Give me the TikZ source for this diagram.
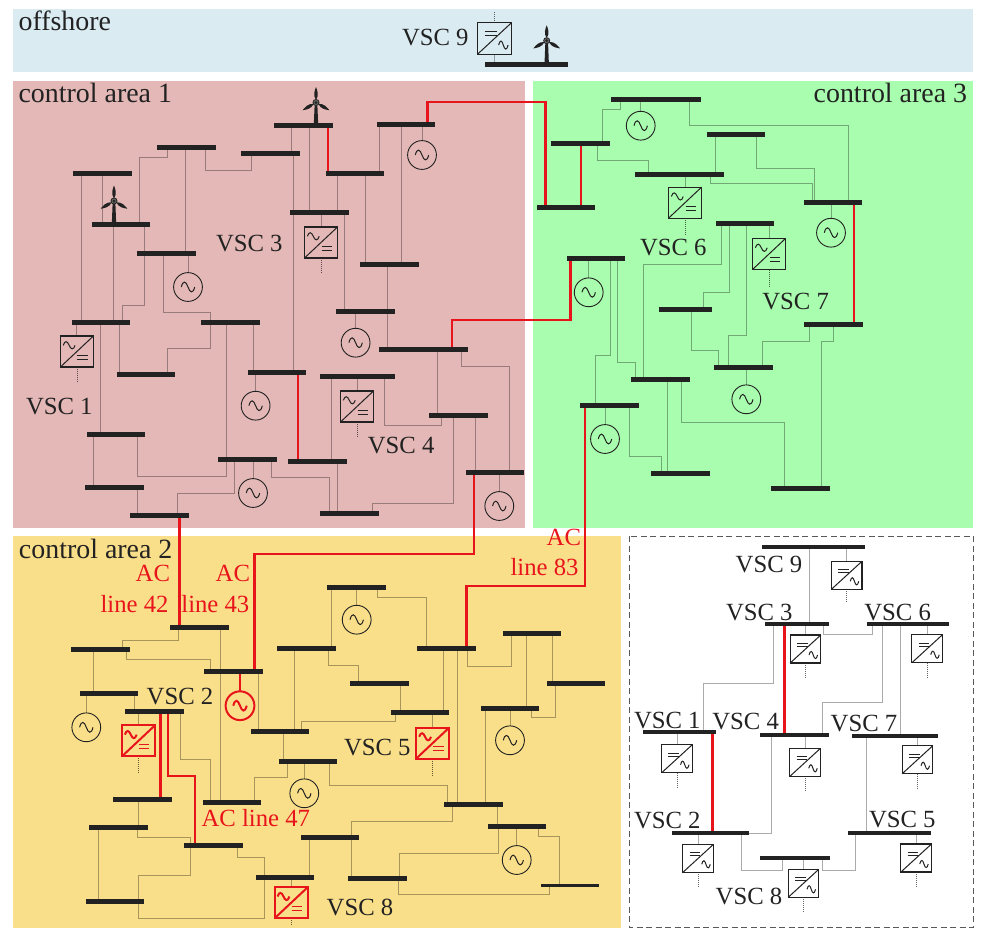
\documentclass[tikz,border=0pt]{standalone}
\usepackage{fontspec}
\setmainfont{Liberation Serif}
\definecolor{ink}{HTML}{222222}
\definecolor{acred}{HTML}{E8141C}
\definecolor{bgoff}{HTML}{DAEBF2}
\definecolor{bgone}{HTML}{E3B8B6}
\definecolor{bgtwo}{HTML}{FADF8A}
\definecolor{bgthree}{HTML}{A9FDAE}
\pgfdeclarelayer{bgl}\pgfdeclarelayer{links}\pgfsetlayers{bgl,links,main}
\tikzset{
 busbar/.style={rectangle,fill=ink,draw=none,inner sep=0pt,outer sep=0pt,minimum height=5pt},
 ln/.style={line width=1pt,draw=black,draw opacity=.33,line join=miter},
 redl/.style={line width=2.8pt,draw=acred,line join=miter,draw opacity=1},
 dotl/.style={line width=.7pt,draw=black,draw opacity=.6,dash pattern=on 1pt off 1pt},
 gencirc/.style={circle,draw=ink,line width=.9pt,inner sep=0pt,outer sep=0pt,minimum size=28.8pt},
 convbox/.style={rectangle,draw=ink,line width=1.1pt,inner sep=0pt,outer sep=0pt},
 glyph/.style={draw=ink,line width=1pt},
 redc/.style={draw=acred,line width=2pt},
 lab/.style={inner sep=0pt,outer sep=0pt,anchor=base west,text=ink,font=\fontsize{24.7}{24.7}\selectfont},
 lab2/.style={inner sep=0pt,outer sep=0pt,anchor=base west,text=ink,font=\fontsize{27.9}{27.9}\selectfont},
 redlab/.style={inner sep=0pt,outer sep=0pt,anchor=base east,text=acred,font=\fontsize{24.7}{24.7}\selectfont},
}
\newcommand\bus[5][]{\node[busbar,minimum width={(#4-#3)*1pt},#1] (#2) at ({(#3+#4)/2},#5) {};}
\newcommand\vl[4][ln]{\draw[#1] (#3,0 |- #2) -- (#3,0 |- #4);}
\newcommand\zl[6][ln]{\draw[#1] (#3,0 |- #2) -- (#3,#4) -- (#5,#4) -- (#5,0 |- #6);}
\newcommand\gen[4][]{\node[gencirc,#1] (#2) at (#3,#4) {};
 \draw[glyph,#1,shift={(#3,#4)}] (-6.7,0) .. controls (-5,-7) and (-2,-6) .. (0,0) .. controls (2,6) and (5,7) .. (6.7,0);}
\newcommand\stem[3][ln]{\draw[#1] (#3.north |- #2) -- (#3.north);}
\newcommand\tail[2]{\coordinate (#1t) at (#1.south |- 0,#2); \draw[dotl] (#1.south) -- (#1t);}
\newcommand\convA[6][]{\node[convbox,minimum width=#5*1pt,minimum height=#6*1pt,#1] (#2) at (#3,#4) {};
 \draw[glyph,#1] (#2.south west) -- (#2.north east);
 \begin{scope}[shift={(#3,#4)},xscale=#5/33,yscale=#6/31]
 \draw[glyph,#1] (-13.6,-6.2) .. controls (-12,-11.5) and (-9.5,-10.5) .. (-7.7,-6.2) .. controls (-6,-2) and (-3.5,-1) .. (-1.8,-6.2);
 \draw[glyph,#1,line width=.9pt] (.5,3.6) -- (10.8,3.6) (.5,7.6) -- (10.8,7.6);
 \end{scope}}
\newcommand\convB[6][]{\node[convbox,minimum width=#5*1pt,minimum height=#6*1pt,#1] (#2) at (#3,#4) {};
 \draw[glyph,#1] (#2.south west) -- (#2.north east);
 \begin{scope}[shift={(#3,#4)},xscale=#5/30.5,yscale=#6/28]
 \draw[glyph,line width=.9pt] (-8.5,-5.7) -- (2,-5.7) (-8.5,-2.7) -- (2,-2.7);
 \draw[glyph] (3.5,6) .. controls (4.8,1) and (6.5,1.5) .. (7.7,6) .. controls (9,10.5) and (10.8,11) .. (12,6);
 \end{scope}}
\newcommand\turbine[3]{\begin{scope}[shift={(#1,#3)}]
 \fill[ink] (-1.4,3) -- (-2.2,#2-#3) -- (2.2,#2-#3) -- (1.4,3) -- cycle;
 \foreach \r in {0,120,-120}{
  \fill[ink,rotate=\r] (0,-2.5) .. controls (-3.4,-7.5) and (-1.2,-12) .. (0,-15.5) .. controls (1.2,-12) and (3.4,-7.5) .. (0,-2.5) -- cycle;}
 \fill[ink] (0,0) circle (3.5);
 \fill[white,opacity=.3] (0,0) circle (2.5);
 \fill[ink] (0,0) circle (1.5);
 \end{scope}}
\begin{document}
\begin{tikzpicture}[x=1pt,y=-1pt]
\useasboundingbox (0,0) rectangle (983,935);
\begin{pgfonlayer}{bgl}
\fill[white] (0,0) rectangle (983,935);
\fill[bgoff] (13,9) rectangle (973,72);
\fill[bgone] (13,81) rectangle (525,528);
\fill[bgthree] (533,81) rectangle (973,528);
\fill[bgtwo] (13,536) rectangle (621,927.5);
\draw[draw=black!65,line width=1pt,dash pattern=on 6pt off 3.5pt] (629,536) rectangle (973,927.5);
\end{pgfonlayer}
% offshore
\bus{OB}{485}{568}{64}
\turbine{546.7}{64}{40.7}
\convB[minimum width=34pt]{V9x}{494.7}{38.3}{34}{31.5}
% area 1
\bus{A1}{73}{132}{173}\bus{A2}{92}{150}{224}\bus{A3}{157}{216}{147}\bus{A4}{241}{300}{153}
\bus{A5}{274}{333}{125}\bus{A6}{377}{435}{124}\bus{A7}{326}{384}{173}\bus{A8}{290}{349}{212}
\bus{A9}{360}{419}{264}\bus{A10}{137}{196}{253}\bus{A11}{72}{130}{322}\bus{A12}{117}{175}{374}
\bus{A13}{201}{260}{322}\bus{A14}{248}{306}{372}\bus{A15}{336}{395}{311}\bus{A16}{379}{468}{349}
\bus{A17}{320}{395}{376}\bus{A18}{429}{488}{415}\bus{A19}{466}{524}{472}\bus{A20}{288}{347}{461}
\bus{A21}{218}{277}{459}\bus{A22}{87}{145}{434}\bus{A23}{85}{144}{487}\bus{A24}{130}{189}{515}
\bus{A25}{320}{379}{513}
\turbine{316}{125}{102.5}
\turbine{114}{224}{201}
\gen{G1}{422}{155}\gen{G2}{188}{287}\gen{G3}{355.6}{342.7}\gen{G4}{255.6}{405.7}\gen{G5}{253}{493}\gen{G6}{499.3}{506}
\convA{V3x}{321}{242.5}{33}{31}
\convA{V1x}{76.9}{351.5}{33}{31}
\convA{V4x}{357}{406.5}{33}{31}
% area 3
\bus{C1}{611}{701}{99.5}\bus{C2}{551}{610}{143.7}\bus{C3}{537}{595}{207.7}\bus{C4}{707}{765}{134}
\bus{C5}{635}{724}{174}\bus{C6}{804}{862}{202}\bus{C7}{716}{774}{223.7}\bus{C8}{567}{625}{258}
\bus{C9}{659}{712}{309}\bus{C10}{804}{863}{324}\bus{C11}{714}{773}{367.7}\bus{C12}{631}{690}{379.7}
\bus{C13}{580}{639}{405.7}\bus{C14}{651}{710}{473}\bus{C15}{771}{830}{488}
\gen{G7}{640.7}{125.7}\gen{G8}{831}{232.7}\gen{G9}{588.7}{292.3}\gen{G10}{746.3}{399.3}\gen{G11}{605}{439}
\convA{V6x}{685}{202.7}{33}{31}
\convA{V7x}{769}{254}{33}{31}
% area 2
\bus{D1}{170}{228.7}{627.3}\bus{D2}{71.3}{130}{649.7}\bus{D3}{204}{262.7}{671.7}\bus{D4}{79.7}{137.7}{693}
\bus{D5}{125.3}{184}{711.3}\bus{D6}{250.7}{309.3}{731.3}\bus{D7}{277.3}{335.7}{648}\bus{D8}{279}{337.3}{761}
\bus{D9}{113.3}{172}{799.3}\bus{D10}{202.7}{261.3}{802.7}\bus{D11}{89.3}{147.7}{827.7}\bus{D12}{184.3}{242.7}{845.3}
\bus{D13}{255.7}{314}{877.3}\bus{D14}{85.7}{144.3}{901.7}\bus{D15}{327}{385.7}{587.7}\bus{D16}{417.3}{475.7}{648.7}
\bus{D17}{350}{408.7}{683.7}\bus{D18}{391}{449.3}{712.3}\bus{D19}{503}{561.3}{633}\bus{D20}{547}{605.3}{683.3}
\bus{D21}{481}{539.3}{708}\bus{D22}{444.3}{502.7}{804.7}\bus{D23}{488}{546}{826.7}\bus{D24}{300.7}{359}{837.3}
\bus{D25}{348}{406.7}{878.3}\bus[minimum height=3pt]{D26}{541}{599.3}{885.3}
\gen[redc]{G12}{240}{705.7}
\gen{G13}{86.3}{727.3}\gen{G14}{304.3}{793.3}\gen{G15}{356.7}{619.7}\gen{G16}{510}{740.3}\gen{G17}{516.7}{860}
\convA[redc]{V2x}{138.5}{740.8}{33}{31}
\convA[redc]{V5x}{432.8}{743}{33}{31}
\convA[redc]{V8x}{291.2}{902.7}{33}{31}
% right panel
\tikzset{busbar/.append style={minimum height=4pt}}
\bus{E9}{762}{864.7}{547.3}\bus{E3}{765.3}{828.7}{623.7}\bus{E6}{867.3}{948.7}{623.7}\bus{E1}{643}{716}{731.7}
\bus{E4}{760}{828.7}{734.7}\bus{E7}{852}{937.7}{736.3}\bus{E2}{672.3}{749.3}{833.3}\bus{E5}{848}{931}{832.7}
\bus{E8}{760}{829.7}{858.3}
\convB{W9}{846.7}{575.3}{30.6}{28}\convB{W3}{805.5}{649}{30.6}{28}\convB{W6}{927.2}{648.7}{30.6}{28}
\convB{W1}{677}{758.7}{30.6}{28}\convB{W4}{805.2}{762.3}{30.6}{28}\convB{W7}{917.5}{759.7}{30.6}{28}
\convB{W2}{698.2}{858.3}{30.6}{28}\convB{W5}{916.2}{858}{30.6}{28}\convB{W8}{803.5}{883.3}{30.6}{28}
\begin{pgfonlayer}{links}
% offshore
\draw[ln] (V9x.south) -- (V9x.south |- OB);
\coordinate (V9xt) at (V9x.north |- 0,12); \draw[dotl] (V9x.north) -- (V9xt);
% area 1
\vl{A1}{81.5}{A11}\vl{A1}{102.4}{A2}\vl{A2}{113}{A11}
\zl{A2}{139.6}{157}{167}{A3}\vl{A3}{185}{A10}\zl{A3}{205}{170}{251.5}{A4}
\vl{A5}{291}{A4}\vl{A5}{309}{A8}\vl{A6}{379}{A7}\vl{A6}{401}{A9}\stem{A6}{G1}
\vl{A7}{337}{A8}\vl{A7}{365.5}{A9}\vl{A4}{293.5}{A14}\stem{A8}{V3x}\vl{A8}{344}{A15}
\vl{A9}{387.5}{A16}\stem{A15}{G3}\vl{A2}{144}{A10}\zl{A10}{144.7}{305}{122.7}{A11}
\zl{A10}{163.6}{312}{210.6}{A13}\zl{A13}{210.6}{348}{167}{A12}\stem{A10}{G2}
\stem{A11}{V1x}\vl{A11}{100.4}{A22}\vl{A11}{119.3}{A12}\vl{A13}{226.5}{A21}
\zl{A22}{137}{476}{226.5}{A21}\vl{A13}{253}{A14}\stem{A14}{G4}\vl{A17}{331}{A20}
\stem{A17}{V4x}\zl{A17}{384.4}{425.7}{441.5}{A18}\vl{A16}{437.5}{A18}
\zl{A16}{461.5}{366}{509.5}{A19}\vl{A18}{475.3}{A19}\zl{A18}{453.7}{503.3}{372}{A25}
\stem{A19}{G6}\stem{A21}{G5}\zl{A21}{234.6}{493.3}{177.8}{A24}\zl{A21}{271.5}{477.3}{329}{A25}
\vl{A20}{337.4}{A25}\vl{A22}{93.3}{A23}\vl{A23}{137.3}{A24}
\tail{V3x}{273}\tail{V1x}{383}\tail{V4x}{438}
% area 3
\zl{C1}{620.7}{109.7}{602.3}{C2}\stem{C1}{G7}\zl{C1}{689}{125.3}{848}{C6}
\zl{C2}{597}{160.3}{648.7}{C5}\vl{C4}{715}{C5}\zl{C4}{756.7}{168.3}{814.7}{C6}
\zl{C5}{710.7}{183.3}{812.7}{C6}\stem{C5}{V6x}\stem{C6}{G8}\stem{C7}{V7x}
\zl{C7}{721.3}{264}{643.3}{C12}\zl{C7}{729}{292.3}{703.3}{C9}\zl{C7}{746.7}{335.7}{728.3}{C11}
\stem{C8}{G9}\zl{C8}{610.7}{355.3}{595.7}{C13}\zl{C8}{617.3}{362.7}{635.7}{C12}
\zl{C9}{691.7}{350.3}{718.7}{C11}\zl{C10}{809.3}{341.3}{762.3}{C11}\zl{C10}{833.3}{341.3}{821.3}{C15}
\stem{C11}{G10}\vl{C12}{667.7}{C14}\zl{C12}{681.7}{422.3}{784}{C15}\stem{C13}{G11}
\zl{C13}{629.3}{456.3}{661.7}{C14}
\tail{V6x}{235}\tail{V7x}{286}
% area 2
\zl{D1}{178.3}{640.3}{122.3}{D2}\vl{D1}{220.3}{D10}\zl{D2}{126.7}{659.3}{210.7}{D3}\vl{D2}{93.3}{D4}
\vl{D3}{258.7}{D6}\stem{D4}{G13}\vl{D4}{134.7}{D5}\stem{D5}{V2x}\zl{D5}{180.7}{759.3}{210}{D10}
\vl{D7}{294.7}{D6}\vl{D6}{283.7}{D8}\zl{D6}{301.3}{721}{395.7}{D18}\vl{D15}{331.7}{D7}
\zl{D7}{328.3}{665.3}{358.7}{D17}\stem{D15}{G15}\zl{D15}{377.7}{597.3}{426.7}{D16}
\vl{D16}{443.7}{D18}\vl{D16}{457.7}{D22}\zl{D16}{467.7}{666}{511.3}{D19}\vl{D17}{400.7}{D18}
\stem{D18}{V5x}\vl{D19}{526.7}{D21}\vl{D19}{552.7}{D20}\zl{D20}{555.7}{717.3}{531.7}{D21}
\stem{D21}{G16}\vl{D21}{485.7}{D22}\vl{D22}{497}{D23}\stem{D8}{G14}\zl{D8}{287.7}{777.3}{254.3}{D10}
\zl{D8}{329.3}{785.3}{447.7}{D22}\zl{D22}{452.7}{821.7}{351.7}{D25}\vl{D24}{309.3}{D13}\stem{D23}{G17}
\zl{D23}{538.7}{836}{559.7}{D26}\zl{D23}{498.3}{853}{399.3}{D25}\zl{D25}{398.3}{894}{549.7}{D26}
\vl{D9}{138.3}{D11}\vl{D11}{98.7}{D14}\zl{D11}{137.3}{837}{190}{D12}\zl{D12}{190}{875.3}{138.7}{D14}
\zl{D14}{138.7}{918.3}{264.3}{D13}\zl{D12}{237.3}{857.3}{264.3}{D13}\stem{D13}{V8x}
\tail{V2x}{772.7}\tail{V5x}{775}\tail{V8x}{925}
% right panel
\vl{E9}{809}{E3}\zl{E3}{773.3}{683.7}{703.7}{E1}\zl{E3}{823.7}{634.7}{872}{E6}
\zl{E6}{882.3}{702.7}{822.3}{E4}\vl{E6}{900}{E7}\draw[ln] (771.7,0 |- E4) |- (E2);
\vl{E7}{866.7}{E5}\zl{E2}{741.3}{870.3}{782.3}{E8}\zl{E8}{822.3}{870.3}{855.3}{E5}
\stem{E9}{W9}\stem{E3}{W3}\stem{E6}{W6}\stem{E1}{W1}\stem{E4}{W4}\stem{E7}{W7}\stem{E2}{W2}\stem{E5}{W5}\stem{E8}{W8}
\tail{W9}{603}\tail{W3}{677.3}\tail{W6}{677}\tail{W1}{787.3}\tail{W4}{790.7}\tail{W7}{788.3}\tail{W2}{886.7}\tail{W5}{886.7}\tail{W8}{911.7}
% red lines
\vl[redl]{A5}{328}{A7}
\zl[redl]{A6}{427.6}{102}{545.7}{C3}
\vl[redl]{C2}{581}{C3}
\vl[redl]{A14}{298}{A20}
\zl[redl]{A16}{452}{320}{570.7}{C8}
\vl[redl]{C6}{854}{C10}
\vl[redl]{A24}{179.3}{D1}
\zl[redl]{A19}{474}{554}{254.7}{D3}
\zl[redl]{C13}{585}{586}{466.7}{D16}
\vl[redl]{D5}{160.7}{D9}
\draw[redl] (168,0 |- D5) -- (168,776) -- (195,776) -- (195,0 |- D12);
\draw[redl] (G12.north |- D3) -- (G12.north);
\vl[redl,line width=2.4pt]{E3}{784.3}{E4}
\vl[redl,line width=2.4pt]{E1}{712.3}{E2}
\end{pgfonlayer}
% labels
\node[lab2] (T1) at (18.6,30.7) {offshore};
\node[lab2] (T2) at (18.6,102) {control area 1};
\node[lab2] (T3) at (813.7,102.3) {control area 3};
\node[lab2] (T4) at (19,558) {control area 2};
\node[lab] (L9) at (402,45) {VSC 9};
\node[lab] (L3) at (216,251.7) {VSC 3};
\node[lab] (L1) at (26,414.3) {VSC 1};
\node[lab] (L4) at (367.8,453) {VSC 4};
\node[lab] (L6) at (640,255) {VSC 6};
\node[lab] (L7) at (762.3,309) {VSC 7};
\node[lab] (L2) at (146.7,704) {VSC 2};
\node[lab] (L5) at (344,755) {VSC 5};
\node[lab] (L8) at (326.7,915) {VSC 8};
\node[lab] (R9) at (735.7,572.3) {VSC 9};
\node[lab] (R3) at (726,620) {VSC 3};
\node[lab] (R6) at (864.3,620) {VSC 6};
\node[lab] (R1) at (634,728.3) {VSC 1};
\node[lab] (R4) at (712.3,729.3) {VSC 4};
\node[lab] (R7) at (830.7,731.7) {VSC 7};
\node[lab] (R2) at (634,828.3) {VSC 2};
\node[lab] (R5) at (869,827.7) {VSC 5};
\node[lab] (R8) at (715.7,904) {VSC 8};
\node[redlab] (AC1) at (170,581.7) {AC};
\node[redlab] (AC2) at (168.5,612) {line 42};
\node[redlab] (AC3) at (250,581.7) {AC};
\node[redlab] (AC4) at (249.3,612) {line 43};
\node[redlab] (AC5) at (581,545) {AC};
\node[redlab] (AC6) at (578.5,575) {line 83};
\node[redlab] (AC7) at (310,826.7) {AC line 47};
\end{tikzpicture}
\end{document}
